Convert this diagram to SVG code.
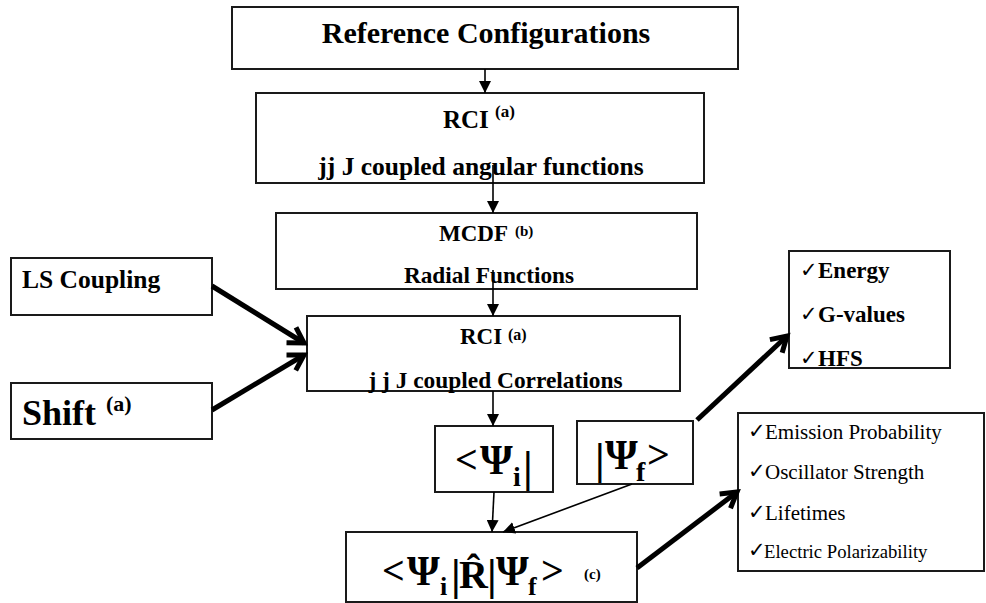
<svg xmlns="http://www.w3.org/2000/svg" width="986" height="603" viewBox="0 0 986 603">
  <style>
    .box { fill: #ffffff; stroke: #1a1a1a; stroke-width: 2; }
    .t { font-family: "Liberation Serif", "Times New Roman", serif; fill: #000000; }
    .b { font-weight: bold; }
    .ck { font-family: "DejaVu Sans", sans-serif; font-size: 21px; fill: #000000; }
    .thin { stroke: #000000; stroke-width: 1.6; fill: none; }
    .thick { stroke: #000000; stroke-width: 5; fill: none; }
  </style>
  <defs>
    <marker id="head" viewBox="0 0 12 12" refX="12" refY="6" markerWidth="12" markerHeight="12" markerUnits="userSpaceOnUse" orient="auto">
      <path d="M0,0 L12,6 L0,12 Z" fill="#000000"/>
    </marker>
    <marker id="chevron" viewBox="0 0 24 24" refX="19" refY="12" markerWidth="24" markerHeight="24" markerUnits="userSpaceOnUse" orient="auto">
      <path d="M4,3 L19,12 L4,21" fill="none" stroke="#000000" stroke-width="5" stroke-linejoin="miter"/>
    </marker>
  </defs>

  <rect width="986" height="603" fill="#ffffff"/>

  <!-- boxes -->
  <g id="reference-configurations">
    <rect class="box" x="232" y="7" width="506" height="62"/>
    <text class="t b" x="486" y="43" font-size="30" text-anchor="middle">Reference Configurations</text>
  </g>

  <g id="rci-angular">
    <rect class="box" x="256" y="93" width="448" height="90"/>
    <text class="t b" x="443" y="128" font-size="25">RCI</text>
    <text class="t b" x="495" y="117" font-size="17">(a)</text>
    <text class="t b" x="481" y="175" font-size="25.5" text-anchor="middle">jj J coupled angular functions</text>
  </g>

  <g id="mcdf">
    <rect class="box" x="276" y="213" width="421" height="76"/>
    <text class="t b" x="439" y="241" font-size="23">MCDF</text>
    <text class="t b" x="515" y="236" font-size="15">(b)</text>
    <text class="t b" x="489" y="283" font-size="23.3" text-anchor="middle">Radial Functions</text>
  </g>

  <g id="rci-correlations">
    <rect class="box" x="307" y="316" width="373" height="75"/>
    <text class="t b" x="460" y="344" font-size="23">RCI</text>
    <text class="t b" x="508" y="340" font-size="16">(a)</text>
    <text class="t b" x="495.5" y="388" font-size="23.4" text-anchor="middle">j j J coupled Correlations</text>
  </g>

  <g id="ls-coupling">
    <rect class="box" x="11" y="258" width="201" height="57"/>
    <text class="t b" x="22" y="288" font-size="25.5">LS Coupling</text>
  </g>

  <g id="shift">
    <rect class="box" x="11" y="383" width="201" height="56"/>
    <text class="t b" x="22" y="425" font-size="36">Shift</text>
    <text class="t b" x="106" y="411" font-size="22">(a)</text>
  </g>

  <g id="bra-initial">
    <rect class="box" x="435" y="426" width="118" height="66"/>
    <text class="t b" font-size="40">
      <tspan x="455" y="473">&lt;</tspan><tspan x="480" y="474" font-size="42">Ψ</tspan><tspan x="513" y="486" font-size="28">i</tspan><tspan x="523" y="482" font-size="44">|</tspan>
    </text>
  </g>

  <g id="ket-final">
    <rect class="box" x="577" y="421" width="116" height="63"/>
    <text class="t b" font-size="40">
      <tspan x="595" y="474" font-size="44">|</tspan><tspan x="605" y="469" font-size="42">Ψ</tspan><tspan x="636" y="481" font-size="28">f</tspan><tspan x="647" y="468">&gt;</tspan>
    </text>
  </g>

  <g id="matrix-element">
    <rect class="box" x="346" y="532" width="291" height="70"/>
    <text class="t b" font-size="40">
      <tspan x="382" y="584">&lt;</tspan><tspan x="407" y="585" font-size="42">Ψ</tspan><tspan x="440" y="595" font-size="26">i</tspan><tspan x="451" y="590" font-size="44">|</tspan><tspan x="459" y="588" font-size="40">R̂</tspan><tspan x="487" y="590" font-size="44">|</tspan><tspan x="496" y="585" font-size="42">Ψ</tspan><tspan x="528" y="595" font-size="26">f</tspan><tspan x="541" y="584">&gt;</tspan>
    </text>
    <text class="t b" x="584" y="579" font-size="15">(c)</text>
  </g>

  <g id="level-properties">
    <rect class="box" x="789" y="251" width="161" height="117"/>
    <text class="ck" x="800" y="277">✓</text>
    <text class="t b" x="818" y="278" font-size="23">Energy</text>
    <text class="ck" x="800" y="321">✓</text>
    <text class="t b" x="818" y="322" font-size="23">G-values</text>
    <text class="ck" x="800" y="365">✓</text>
    <text class="t b" x="818" y="366" font-size="23">HFS</text>
  </g>

  <g id="transition-properties">
    <rect class="box" x="738" y="413" width="246" height="158"/>
    <text class="ck" x="748" y="438">✓</text>
    <text class="t" x="765" y="439" font-size="21">Emission Probability</text>
    <text class="ck" x="748" y="478">✓</text>
    <text class="t" x="765" y="479" font-size="21">Oscillator Strength</text>
    <text class="ck" x="748" y="519">✓</text>
    <text class="t" x="765" y="520" font-size="21">Lifetimes</text>
    <text class="ck" x="748" y="557" font-size="17">✓</text>
    <text class="t" x="764" y="558" font-size="18.7">Electric Polarizability</text>
  </g>

  <!-- connectors -->
  <g id="connectors">
    <line class="thin" x1="485" y1="69" x2="485" y2="93" marker-end="url(#head)"/>
    <line class="thin" x1="493" y1="165" x2="493" y2="213" marker-end="url(#head)"/>
    <line class="thin" x1="493" y1="270" x2="493" y2="316" marker-end="url(#head)"/>
    <line class="thin" x1="493" y1="391" x2="493" y2="426" marker-end="url(#head)"/>
    <line class="thin" x1="494" y1="492" x2="492" y2="532" marker-end="url(#head)"/>
    <line class="thin" x1="632" y1="484" x2="503" y2="532" marker-end="url(#head)"/>
    <line class="thick" x1="212" y1="286" x2="304" y2="343" marker-end="url(#chevron)"/>
    <line class="thick" x1="212" y1="410" x2="304" y2="355" marker-end="url(#chevron)"/>
    <line class="thick" x1="697" y1="420" x2="787" y2="336" marker-end="url(#chevron)"/>
    <line class="thick" x1="637" y1="568" x2="737" y2="492" marker-end="url(#chevron)"/>
  </g>
</svg>
